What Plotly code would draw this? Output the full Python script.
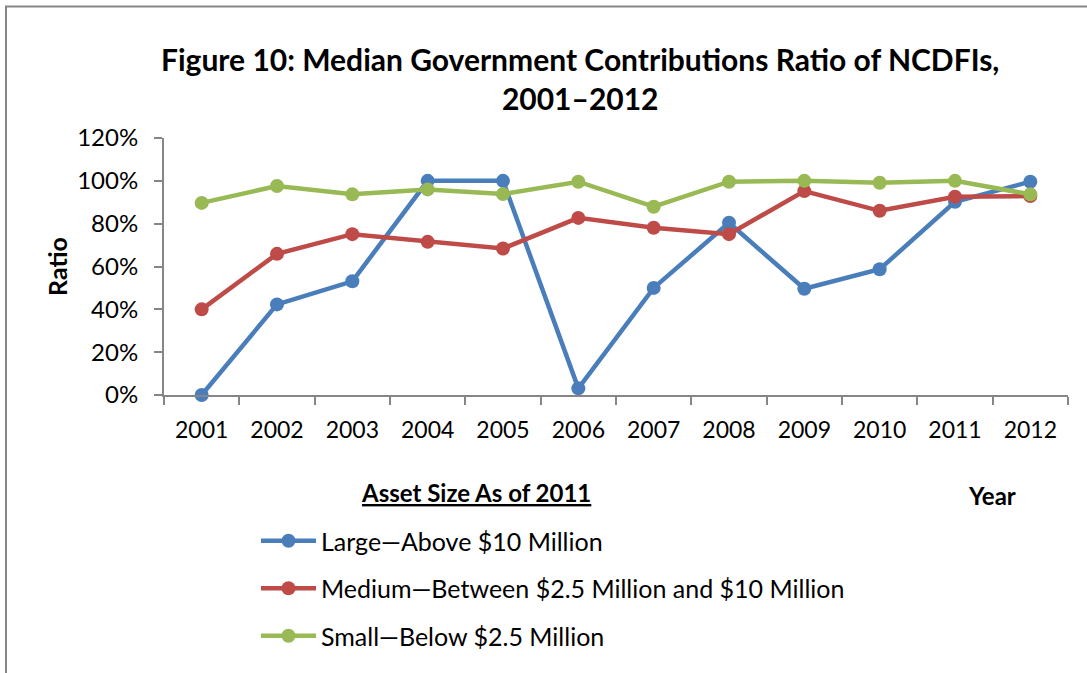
import plotly.graph_objects as go

years = ["2001", "2002", "2003", "2004", "2005", "2006",
         "2007", "2008", "2009", "2010", "2011", "2012"]
large = [0.0, 0.423, 0.531, 1.0, 1.0, 0.031, 0.50, 0.804, 0.496, 0.587, 0.902, 0.996]
medium = [0.40, 0.659, 0.751, 0.715, 0.684, 0.827, 0.781, 0.751, 0.952, 0.86, 0.926, 0.929]
small = [0.897, 0.976, 0.937, 0.96, 0.938, 0.996, 0.879, 0.996, 1.0, 0.991, 1.0, 0.937]
names = ["Large\u2014Above $10 Million",
         "Medium\u2014Between $2.5 Million and $10 Million",
         "Small\u2014Below $2.5 Million"]
colors = ["#4A7EBB", "#BE4B48", "#98B954"]
series = [large, medium, small]
y_ticks = [0, 0.2, 0.4, 0.6, 0.8, 1.0, 1.2]

FONT = "Lato, 'Open Sans', sans-serif"
AX = "#868686"

fig = go.Figure()
for i, (nm, vals, col) in enumerate(zip(names, series, colors)):
    fig.add_trace(go.Scatter(
        x=years, y=vals, name=nm, mode="lines+markers",
        line=dict(color=col, width=4.5),
        marker=dict(color=col, size=14),
        cliponaxis=False, legendgroup="g%d" % i,
    ))

W, H = 1087, 673
L, R, T, B = 164, 19, 138, 278
pw, ph = W - L - R, H - T - B

def px(x):
    return (x - L) / pw

def py(y):
    return (H - B - y) / ph

fig.update_layout(
    width=W, height=H,
    margin=dict(l=L, r=R, t=T, b=B, pad=0),
    paper_bgcolor="white", plot_bgcolor="white",
    font=dict(family=FONT, size=23, color="#000000"),
    xaxis=dict(
        type="category", range=[-0.5, len(years) - 0.5],
        showgrid=False, zeroline=False,
        showline=True, linecolor=AX, linewidth=2,
        ticks="outside", tickson="boundaries", ticklen=8, tickwidth=2, tickcolor=AX,
        ticklabelstandoff=13,
        tickfont=dict(family=FONT, size=23),
    ),
    yaxis=dict(
        range=[0, 1.2], tickvals=y_ticks, tickformat=".0%",
        showgrid=False, zeroline=False,
        showline=True, linecolor=AX, linewidth=2,
        ticks="outside", ticklen=8, tickwidth=2, tickcolor=AX,
        ticklabelstandoff=11,
        tickfont=dict(family=FONT, size=24),
    ),
    showlegend=True,
    legend=dict(
        x=px(256), xanchor="left", y=py(518), yanchor="top",
        orientation="v", tracegroupgap=12, itemwidth=55,
        font=dict(family=FONT, size=25, color="#000000"),
        bgcolor="rgba(0,0,0,0)",
    ),
    annotations=[
        dict(text="<b>Figure 10: Median Government Contributions Ratio of NCDFIs,<br>2001\u20132012</b>",
             x=px(580), y=py(79), xref="paper", yref="paper",
             showarrow=False, xanchor="center", yanchor="middle",
             font=dict(family=FONT, size=30)),
        dict(text="<b><u>Asset Size As of 2011</u></b>", x=px(476), y=py(492),
             xref="paper", yref="paper", showarrow=False,
             xanchor="center", yanchor="middle",
             font=dict(family=FONT, size=24)),
        dict(text="<b>Year</b>", x=px(992), y=py(495),
             xref="paper", yref="paper", showarrow=False,
             xanchor="center", yanchor="middle",
             font=dict(family=FONT, size=24)),
        dict(text="<b>Ratio</b>", x=px(57), y=py(267), textangle=-90,
             xref="paper", yref="paper", showarrow=False,
             xanchor="center", yanchor="middle",
             font=dict(family=FONT, size=25)),
    ],
    shapes=[
        dict(type="rect", xref="paper", yref="paper",
             x0=px(6), x1=px(1200), y0=py(6.5), y1=py(800),
             line=dict(color=AX, width=2), fillcolor="rgba(0,0,0,0)", layer="below"),
    ],
)

fig.write_html("out.html")
